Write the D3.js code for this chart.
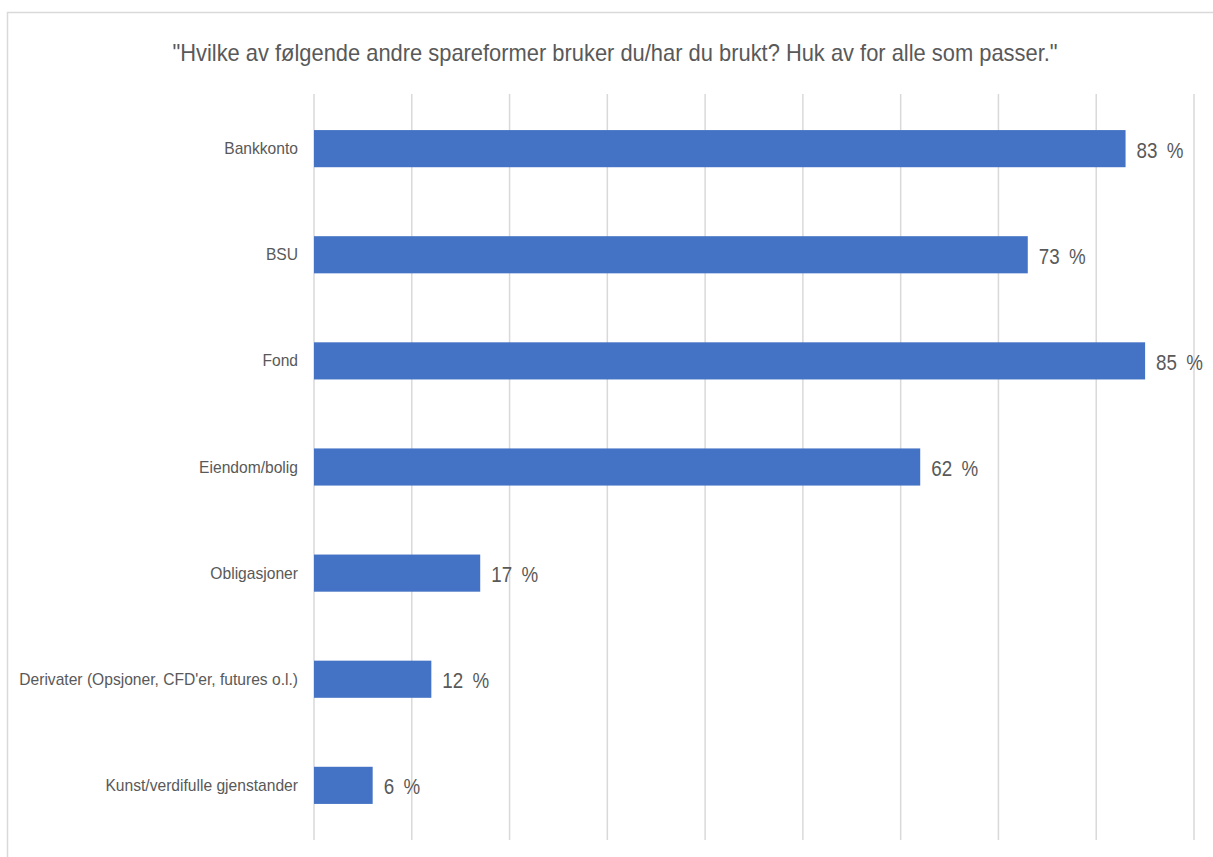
<!DOCTYPE html>
<html>
<head>
<meta charset="utf-8">
<script src="https://cdn.jsdelivr.net/npm/d3@7"></script>
<style>
  html, body { margin: 0; padding: 0; background: #ffffff; }
  svg { display: block; }
</style>
</head>
<body>
<script>
// Survey question and answer shares (percent of respondents)
const title = "\"Hvilke av følgende andre spareformer bruker du/har du brukt? Huk av for alle som passer.\"";
const categories = [
  "Bankkonto",
  "BSU",
  "Fond",
  "Eiendom/bolig",
  "Obligasjoner",
  "Derivater (Opsjoner, CFD'er, futures o.l.)",
  "Kunst/verdifulle gjenstander"
];
const values = [83, 73, 85, 62, 17, 12, 6];
const gridTicks = [0, 10, 20, 30, 40, 50, 60, 70, 80, 90];

const W = 1213, H = 857;
const plot = { left: 314, right: 1194, top: 94, bottom: 840 };
const textColor = "#595959";
const gridColor = "#d9d9d9";
const barColor = "#4472C4";

const svg = d3.select("body").append("svg")
  .attr("width", W).attr("height", H);

// Outer frame (top and left edges)
svg.append("path")
  .attr("d", `M7.5,${H} L7.5,12.5 L${W},12.5`)
  .attr("fill", "none")
  .attr("stroke", gridColor)
  .attr("stroke-width", 1.5);

const x = d3.scaleLinear().domain([0, 90]).range([plot.left, plot.right]);
const y = d3.scaleBand().domain(categories)
  .range([plot.top, plot.bottom])
  .paddingInner(0.65).paddingOuter(0.34);

// Vertical gridlines
svg.append("g").selectAll("line").data(gridTicks).join("line")
  .attr("x1", d => x(d)).attr("x2", d => x(d))
  .attr("y1", plot.top).attr("y2", plot.bottom)
  .attr("stroke", gridColor).attr("stroke-width", 1.5);

// Bars
const rows = categories.map((c, i) => ({ c, v: values[i] }));
svg.append("g").selectAll("rect").data(rows).join("rect")
  .attr("x", x(0))
  .attr("y", d => y(d.c))
  .attr("width", d => x(d.v) - x(0))
  .attr("height", y.bandwidth())
  .attr("fill", barColor);

// Narrow-face helper: squeeze text horizontally by a ratio
function squeeze(sel, ratio) {
  sel.each(function () {
    const t = d3.select(this);
    const ax = +t.attr("x"), ay = +t.attr("y");
    t.attr("transform", `translate(${ax},${ay}) scale(${ratio},1) translate(${-ax},${-ay})`);
  });
}

// Title
const titleText = svg.append("text")
  .attr("x", 615).attr("y", 61)
  .attr("text-anchor", "middle")
  .attr("font-family", "'Liberation Sans', Arial, sans-serif")
  .attr("font-size", 23)
  .attr("fill", textColor)
  .text(title);
const tLen = titleText.node().getComputedTextLength();
squeeze(titleText, 886 / tLen);

// Category labels
const catLabels = svg.append("g").selectAll("text").data(rows).join("text")
  .attr("x", 298)
  .attr("y", d => y(d.c) + y.bandwidth() / 2)
  .attr("text-anchor", "end")
  .attr("dominant-baseline", "central")
  .attr("font-family", "'Liberation Sans', Arial, sans-serif")
  .attr("font-size", 16)
  .attr("fill", textColor)
  .text(d => d.c);
const longest = d3.max(catLabels.nodes(), n => n.getComputedTextLength());
squeeze(catLabels, 279 / longest);

// Value labels
const valLabels = svg.append("g").selectAll("text").data(rows).join("text")
  .attr("x", d => x(d.v) + 11)
  .attr("y", d => y(d.c) + y.bandwidth() / 2 + 1)
  .attr("text-anchor", "start")
  .attr("dominant-baseline", "central")
  .attr("font-family", "'Liberation Sans', Arial, sans-serif")
  .attr("font-size", 22)
  .attr("fill", textColor)
  .text(d => `${d.v}\u2002%`);
const vLen = valLabels.filter(d => d.v === 85).node().getComputedTextLength();
squeeze(valLabels, 47 / vLen);
</script>
</body>
</html>
